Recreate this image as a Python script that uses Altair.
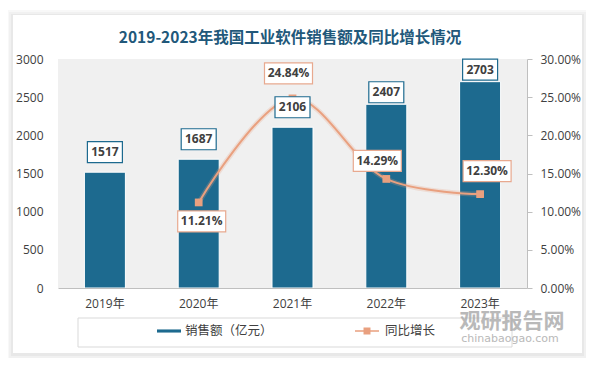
import altair as alt
import pandas as pd

years = ["2019年", "2020年", "2021年", "2022年", "2023年"]
sales = [1517, 1687, 2106, 2407, 2703]
growth_pct = [None, 11.21, 24.84, 14.29, 12.30]
sales_text = ["1517", "1687", "2106", "2407", "2703"]
growth_text = ["", "11.21%", "24.84%", "14.29%", "12.30%"]
left_ticks = [0, 500, 1000, 1500, 2000, 2500, 3000]
right_ticks = [0, 0.05, 0.10, 0.15, 0.20, 0.25, 0.30]
title_text = "2019-2023年我国工业软件销售额及同比增长情况"

BLUE = "#1d6a8f"
SALMON = "#e9a07f"
TXT = "#404040"
FONT = "Open Sans, Noto Sans CJK SC"

df = pd.DataFrame({
    "year": years,
    "sales": sales,
    "growth": [None if g is None else g / 100 for g in growth_pct],
    "stext": sales_text,
    "gtext": growth_text,
    "s1": "销售额（亿元）",
    "s2": "同比增长",
})

one = pd.DataFrame({"a": [0]})

x_enc = alt.X("year:N", sort=years, title=None,
              scale=alt.Scale(paddingInner=0, paddingOuter=0),
              axis=alt.Axis(labelAngle=0, ticks=False, domainColor="#bfbfbf",
                            labelPadding=10, labelFontSize=12, labelColor=TXT,
                            labelFont=FONT, zindex=1))

yl_scale = alt.Scale(domain=[0, 3000])
yr_scale = alt.Scale(domain=[0, 0.3])


def deco_rect(x, x2, y, y2, fill, stroke=None):
    kw = {"fill": fill}
    if stroke:
        kw["stroke"] = stroke
        kw["strokeWidth"] = 1
    return alt.Chart(one).mark_rect(**kw).encode(
        x=alt.value(x), x2=alt.value(x2), y=alt.value(y), y2=alt.value(y2))


shadow3 = deco_rect(-51, 530, -49, 301, "#f8f8f8")
shadow2 = deco_rect(-49, 528, -47, 299, "#f1f1f1")
shadow1 = deco_rect(-47, 526, -45, 297, "#e8e8e8")
card = deco_rect(-45, 524, -44, 294, "#ffffff")
plotbg = deco_rect(0, 469, 0, 229, "#f0f0f0")
legendbox = deco_rect(20, 454, 259, 288, "#ffffff", "#d9d9d9")

title = alt.Chart(one).mark_text(
    text=title_text, font="Noto Sans CJK SC", fontSize=15.5, fontWeight="bold",
    color="#21587a", baseline="middle").encode(x=alt.value(232), y=alt.value(-21))

bars = alt.Chart(df).mark_bar(size=41, stroke="#ffffff", strokeWidth=1).encode(
    x=x_enc,
    y=alt.Y("sales:Q", scale=yl_scale, title=None,
            axis=alt.Axis(orient="left", values=left_ticks, format="d", domain=False,
                          ticks=False, grid=False, labelPadding=15, labelFontSize=12,
                          labelColor=TXT, labelFont=FONT, zindex=1)),
    fill=alt.Fill("s1:N", scale=alt.Scale(domain=["销售额（亿元）"], range=[BLUE]),
                  legend=alt.Legend(title=None, orient="none", legendX=99, legendY=260,
                                    symbolType="M-1,-0.13H1V0.13H-1Z", symbolSize=576,
                                    labelFontSize=12.5, labelColor=TXT, labelFont=FONT,
                                    labelOffset=4, padding=0,
                                    symbolStrokeWidth=0)),
)

line_filter = "isValid(datum.growth)"
yr_noaxis = alt.Y("growth:Q", scale=yr_scale, axis=None)

glow = alt.Chart(df).transform_filter(line_filter).mark_line(
    interpolate="catmull-rom", strokeWidth=5, color=SALMON, opacity=0.25).encode(
    x=x_enc, y=yr_noaxis)

line = alt.Chart(df).transform_filter(line_filter).mark_line(
    interpolate="catmull-rom", strokeWidth=2).encode(
    x=x_enc,
    y=alt.Y("growth:Q", scale=yr_scale, title=None,
            axis=alt.Axis(orient="right", values=right_ticks, format=".2%", grid=False,
                          domainColor="#bfbfbf", tickColor="#bfbfbf", tickSize=5,
                          labelPadding=8, labelFontSize=12, labelColor=TXT,
                          labelFont=FONT, zindex=1)),
    stroke=alt.Stroke("s2:N", scale=alt.Scale(domain=["同比增长"], range=[SALMON]),
                      legend=alt.Legend(title=None, orient="none", legendX=297, legendY=260,
                                        symbolType="M-1,-0.07H1V0.07H-1Z M-0.29,-0.29H0.29V0.29H-0.29Z",
                                        symbolSize=576, labelFontSize=12.5, labelColor=TXT,
                                        labelFont=FONT, labelOffset=6, padding=0,
                                        symbolFillColor=SALMON, symbolStrokeWidth=0)),
)

markers = alt.Chart(df).transform_filter(line_filter).mark_point(
    shape="square", filled=True, size=60, color=SALMON, opacity=1).encode(
    x=x_enc, y=yr_noaxis)

bar_dy = "(datum.year=='2022年' || datum.year=='2023年') ? -12 : -20"

bar_boxes = alt.Chart(df).mark_point(
    shape="M-1,-0.6H1V0.6H-1Z", size=35 * 35, filled=True, fill="#ffffff",
    stroke=BLUE, strokeWidth=1.2, opacity=1, yOffset=alt.expr(bar_dy)).encode(
    x=x_enc, y=alt.Y("sales:Q", scale=yl_scale, axis=None))

bar_text = alt.Chart(df).mark_text(
    font=FONT, fontSize=12, fontWeight="bold", color=TXT, baseline="middle",
    dy=alt.expr(bar_dy)).encode(
    x=x_enc, y=alt.Y("sales:Q", scale=yl_scale, axis=None), text="stext:N")

g_dx = "datum.year=='2020年' ? 3 : datum.year=='2021年' ? -4 : datum.year=='2022年' ? -9 : 7"
g_dy = "datum.year=='2020年' ? 19 : datum.year=='2021年' ? -25 : datum.year=='2022年' ? -18 : -23"

g_boxes = alt.Chart(df).transform_filter(line_filter).mark_point(
    shape="M-1,-0.4375H1V0.4375H-1Z", size=48 * 48, filled=True, fill="#ffffff",
    stroke="#e8a98f", strokeWidth=1.2, opacity=1,
    xOffset=alt.expr(g_dx), yOffset=alt.expr(g_dy)).encode(
    x=x_enc, y=yr_noaxis)

g_text = alt.Chart(df).transform_filter(line_filter).mark_text(
    font=FONT, fontSize=12, fontWeight="bold", color=TXT, baseline="middle",
    dx=alt.expr(g_dx), dy=alt.expr(g_dy)).encode(
    x=x_enc, y=yr_noaxis, text="gtext:N")

wm1 = alt.Chart(one).mark_text(text="观研报告网", font="Noto Sans CJK SC", fontSize=21,
                               fontWeight="bold", color="#a8a8a8", opacity=0.8).encode(
    x=alt.value(454), y=alt.value(263))
wm2 = alt.Chart(one).mark_text(text="chinabaogao.com", font="DejaVu Sans", fontSize=11,
                               color="#a8a8a8", opacity=0.8).encode(
    x=alt.value(452), y=alt.value(280))

chart = alt.layer(
    shadow3, shadow2, shadow1, card, plotbg, legendbox, title,
    bars, glow, line, markers, bar_boxes, bar_text, g_boxes, g_text, wm1, wm2,
).resolve_scale(y="independent").properties(
    width=469, height=229,
    autosize=alt.AutoSizeParams(type="none"),
    padding={"left": 50, "top": 51, "right": 59, "bottom": 70},
    background="#ffffff",
).configure_view(stroke=None)

chart.save("out.html", embed_options={"renderer": "svg", "actions": False})
